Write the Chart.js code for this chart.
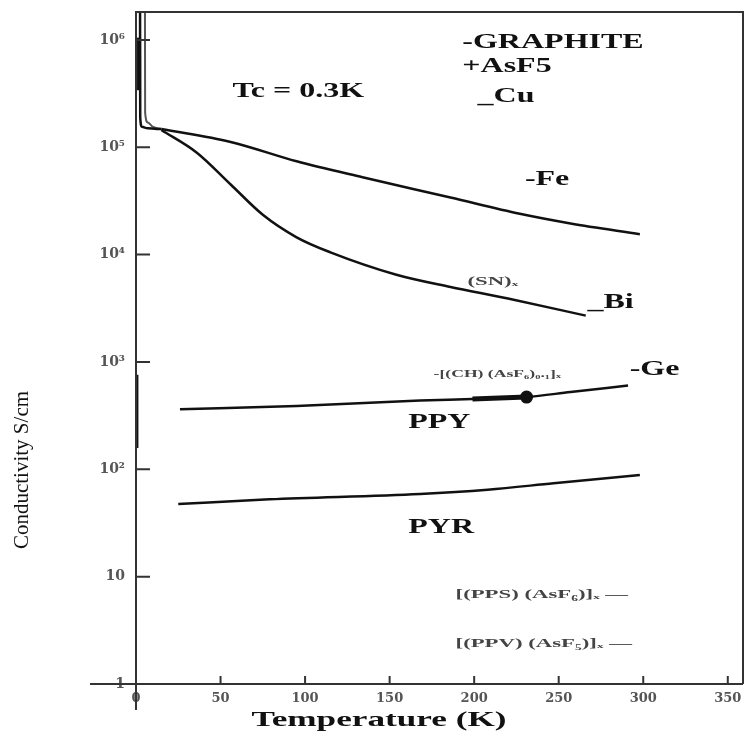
<!DOCTYPE html>
<html>
<head>
<meta charset="utf-8">
<script src="https://cdn.jsdelivr.net/npm/chart.js@4.4.1/dist/chart.umd.min.js"></script>
<style>
html, body { margin: 0; padding: 0; background: #fff; }
</style>
</head>
<body>
<canvas id="myChart" width="747" height="732"></canvas>
<script>
// axis ticks
const xTicks = [0, 50, 100, 150, 200, 250, 300, 350];
const yTicks = [1, 10, 100, 1000, 10000, 100000, 1000000];
const yLabels = ["1", "10", "10\u00b2", "10\u00b3", "10\u2074", "10\u2075", "10\u2076"];

// curves, temperature (K) and conductivity (S/cm)
const cuTemp = [2.4, 2.5, 3.5, 7, 15];
const cuCond = [1820000, 190000, 155000, 150000, 148000];
const asf5Temp = [5.3, 5.4, 7, 10, 15];
const asf5Cond = [1820000, 210000, 170000, 155000, 148000];
const tcTemp = [1.8, 1.8];
const tcCond = [1050000, 340000];
const feTemp = [15, 56, 95, 134, 186, 227, 257, 298];
const feCond = [148000, 112000, 74000, 52500, 34000, 24000, 19500, 15500];
const biTemp = [15, 36, 56, 75, 95, 115, 154, 186, 220, 266];
const biCond = [145000, 89000, 45000, 23500, 14500, 10500, 6500, 5000, 3900, 2700];
const barTemp = [0.4, 0.4];
const barCond = [760, 158];
const ppyTemp = [26, 95, 168, 199, 231, 257, 291];
const ppyCond = [363, 389, 437, 451, 471, 525, 603];
const chTemp = [199, 231];
const chCond = [451, 471];
const pyrTemp = [25, 79, 168, 208, 247, 298];
const pyrCond = [47.4, 52.5, 58.9, 64.6, 74.1, 88.3];

// text notes, anchored at (temperature, conductivity), left/middle
const noteText = ["-GRAPHITE", "+AsF5", "_Cu", "Tc = 0.3K", "-Fe", "_Bi", "-Ge", "PPY", "PYR",
	"(SN)\u2093", "-[(CH) (AsF\u2086)\u2080.\u2081]\u2093", "[(PPS) (AsF\u2086)]\u2093 \u2014", "[(PPV) (AsF\u2085)]\u2093 \u2014"];
const noteTemp = [193, 193, 202, 57, 230, 267, 292, 161, 161, 196, 176, 189, 189];
const noteCond = [930000, 560000, 296000, 327000, 49500, 3550, 851, 269, 28.8, 5560, 771, 6.76, 2.4];

function pts(xs, ys){
	let out = [];
	for(let i in xs)
		out.push({x: xs[i], y: ys[i]});
	return out;
}

function curve(xs, ys, w){
	return {
		data: pts(xs, ys),
		borderColor: "#111",
		backgroundColor: "#111",
		borderWidth: w,
		pointRadius: 0,
		cubicInterpolationMode: "monotone",
		fill: false
	};
}

function stretchText(ctx, txt, x, y, sx){
	ctx.save();
	ctx.translate(x, y);
	ctx.scale(sx, 1);
	ctx.fillText(txt, 0, 0);
	ctx.restore();
}

const framePlugin = {
	id: "frame",
	afterDatasetsDraw(chart){
		const ctx = chart.ctx;
		const a = chart.chartArea;
		const xs = chart.scales.x, ys = chart.scales.y;
		ctx.save();
		ctx.strokeStyle = "#333";
		ctx.lineWidth = 2;
		ctx.beginPath();
		ctx.moveTo(a.left - 46, a.bottom);
		ctx.lineTo(a.right, a.bottom);
		ctx.moveTo(a.left, a.bottom + 26);
		ctx.lineTo(a.left, a.top);
		ctx.lineTo(a.right, a.top);
		ctx.lineTo(a.right, a.bottom);
		for(let v of xTicks){
			if(v == 0) continue;
			let px = xs.getPixelForValue(v);
			ctx.moveTo(px, a.bottom);
			ctx.lineTo(px, a.bottom - 8);
		}
		for(let v of yTicks){
			if(v == 1) continue;
			let py = ys.getPixelForValue(v);
			ctx.moveTo(a.left, py);
			ctx.lineTo(a.left + 14, py);
		}
		ctx.stroke();

		// notes
		ctx.textBaseline = "middle";
		ctx.textAlign = "left";
		for(let i in noteText){
			let px = xs.getPixelForValue(noteTemp[i]);
			let py = ys.getPixelForValue(noteCond[i]);
			if(i < 9){
				ctx.font = "bold 20px 'Liberation Serif'";
				ctx.fillStyle = "#111";
				stretchText(ctx, noteText[i], px, py, 1.6);
			}else if(i == 10){
				ctx.font = "bold 11px 'Liberation Serif'";
				ctx.fillStyle = "#444";
				stretchText(ctx, noteText[i], px, py, 1.6);
			}else{
				ctx.font = "bold 13px 'Liberation Serif'";
				ctx.fillStyle = "#444";
				stretchText(ctx, noteText[i], px, py, 1.75);
			}
		}

		// axis titles
		ctx.fillStyle = "#111";
		ctx.textAlign = "center";
		ctx.font = "bold 22px 'Liberation Serif'";
		stretchText(ctx, "Temperature (K)", 379, 720, 1.6);
		ctx.save();
		ctx.translate(22, 470);
		ctx.rotate(-Math.PI / 2);
		ctx.font = "21px 'Liberation Serif'";
		ctx.fillText("Conductivity S/cm", 0, 0);
		ctx.restore();
		ctx.restore();
	}
};

let ctx = document.getElementById("myChart");
let datasets = [
	curve(cuTemp, cuCond, 2.5),
	curve(asf5Temp, asf5Cond, 2),
	curve(tcTemp, tcCond, 4),
	curve(feTemp, feCond, 2.5),
	curve(biTemp, biCond, 2.5),
	curve(barTemp, barCond, 3.5),
	curve(ppyTemp, ppyCond, 2.5),
	curve(chTemp, chCond, 5),
	curve(pyrTemp, pyrCond, 2.5)
];
datasets[7].pointRadius = [0, 4];
datasets[1].borderColor = "#555";

let chart = new Chart(ctx, {
	type: "line",
	data: { datasets: datasets },
	options: {
		responsive: false,
		animation: false,
		layout: { autoPadding: false, padding: { top: 12, right: 4, left: 0, bottom: 0 } },
		plugins: { legend: { display: false }, tooltip: { enabled: false } },
		scales: {
			x: {
				type: "linear",
				min: 0,
				max: 359,
				grid: { display: false, drawTicks: false },
				border: { display: false },
				afterBuildTicks: s => { s.ticks = xTicks.map(v => ({value: v})); },
				afterFit: s => { s.height = 48; s.paddingLeft = 0; s.paddingRight = 0; },
				ticks: {
					color: "#555",
					font: { family: "'DejaVu Serif'", size: 13, weight: "bold" },
					padding: 7,
					maxRotation: 0,
					autoSkip: false
				}
			},
			y: {
				type: "logarithmic",
				min: 1,
				max: 1820000,
				grid: { display: false, drawTicks: false },
				border: { display: false },
				afterBuildTicks: s => { s.ticks = yTicks.map(v => ({value: v})); },
				afterFit: s => { s.width = 136; s.paddingTop = 0; s.paddingBottom = 0; },
				ticks: {
					color: "#555",
					font: { family: "'DejaVu Serif'", size: 14, weight: "bold" },
					padding: 11,
					autoSkip: false,
					callback: v => yLabels[Math.round(Math.log10(v))]
				}
			}
		}
	},
	plugins: [framePlugin]
});
</script>
</body>
</html>
